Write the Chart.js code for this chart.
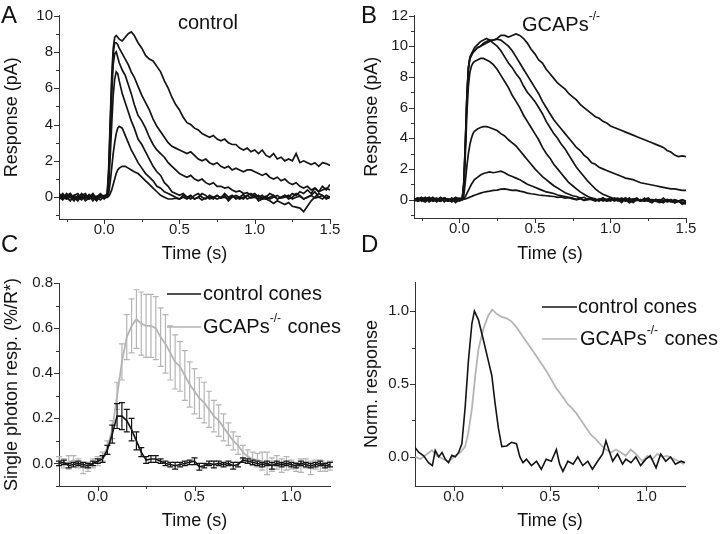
<!DOCTYPE html>
<html>
<head>
<meta charset="utf-8">
<script src="https://cdn.jsdelivr.net/npm/chart.js@4.4.1/dist/chart.umd.min.js"></script>
<style>
  body { margin: 0; background: #fff; }
  #wrap { position: relative; width: 720px; height: 534px; }
  .panel { position: absolute; width: 360px; height: 267px; }
</style>
</head>
<body>
<div id="wrap">
  <div class="panel" style="left:0;top:0"><canvas id="chartA" width="360" height="267"></canvas></div>
  <div class="panel" style="left:360px;top:0"><canvas id="chartB" width="360" height="267"></canvas></div>
  <div class="panel" style="left:0;top:267px"><canvas id="chartC" width="360" height="267"></canvas></div>
  <div class="panel" style="left:360px;top:267px"><canvas id="chartD" width="360" height="267"></canvas></div>
</div>
<script>
// time base (s) for the flash responses in A and B
const timeAB = [-0.3,-0.275,-0.25,-0.225,-0.2,-0.175,-0.15,-0.125,-0.1,-0.075,-0.05,-0.025,0,
  0.02,0.03,0.04,0.05,0.06,0.07,0.08,0.09,0.1,0.12,0.14,0.16,0.18,
  0.2,0.225,0.25,0.275,0.3,0.325,0.35,0.375,0.4,0.425,0.45,0.475,0.5,0.525,0.55,0.575,0.6,0.625,0.65,0.675,
  0.7,0.725,0.75,0.775,0.8,0.825,0.85,0.875,0.9,0.925,0.95,0.975,1.0,1.025,1.05,1.075,1.1,1.125,1.15,1.175,
  1.2,1.225,1.25,1.275,1.3,1.325,1.35,1.375,1.4,1.425,1.45,1.475,1.5];

// A: control cone responses (pA), dimmest to brightest flash
const ctrlA1 = [0.0,0.2,-0.1,0.0,0.1,-0.1,0.2,0.0,-0.1,0.1,0.0,0.1,-0.05,
  0.0,0.05,0.2,0.4,0.7,1.0,1.3,1.5,1.6,1.7,1.7,1.6,1.5,
  1.4,1.3,1.1,0.9,0.7,0.5,0.3,0.1,0.0,-0.1,-0.1,-0.05,-0.1,0.0,-0.1,0.05,-0.1,0.0,-0.15,-0.05,
  0.0,-0.1,0.1,-0.05,0.0,-0.1,0.05,0.0,-0.1,0.0,0.1,-0.05,0.0,-0.1,0.0,0.05,-0.1,0.0,0.1,-0.05,
  0.0,0.1,-0.1,0.0,0.05,-0.1,0.0,0.1,-0.05,0.0,0.1,-0.05,0.0];
const ctrlA2 = [-0.1,0.1,0.0,0.2,-0.1,0.0,-0.15,0.1,0.0,0.2,-0.1,0.0,0.1,
  0.0,0.2,0.8,1.6,2.4,3.0,3.5,3.8,3.9,3.8,3.4,3.0,2.6,
  2.3,1.9,1.6,1.3,1.1,0.9,0.6,0.5,0.3,0.2,0.1,0.0,-0.1,0.1,0.0,-0.1,0.1,0.2,0.0,-0.1,
  0.1,0.0,-0.1,0.0,0.1,-0.2,0.0,0.1,0.0,-0.1,0.1,0.2,0.0,0.1,-0.1,0.0,0.2,0.1,-0.1,0.0,
  0.1,-0.1,0.0,0.2,0.1,-0.1,0.0,0.1,0.3,0.0,-0.1,0.1,0.0];
const ctrlA3 = [0.2,0.0,-0.1,0.1,0.0,-0.2,0.1,0.2,-0.1,0.0,-0.2,0.1,0.0,
  0.0,0.6,2.2,4.0,5.6,6.5,6.9,6.8,6.4,5.7,5.2,4.7,4.2,
  3.8,3.2,2.9,2.5,2.1,1.7,1.4,1.2,0.8,0.6,0.3,0.2,0.1,0.2,0.0,0.1,-0.1,0.0,0.2,0.1,
  -0.1,0.0,0.1,-0.05,0.2,0.0,0.1,-0.1,0.0,0.15,-0.1,0.0,0.1,-0.2,-0.1,-0.1,-0.2,-0.35,-0.2,-0.3,
  -0.4,-0.3,-0.5,-0.55,-0.6,-0.8,-0.5,-0.2,0.0,0.2,0.1,-0.1,0.0];
const ctrlA4 = [0.0,-0.15,0.1,0.2,-0.1,0.0,0.15,-0.2,-0.05,0.1,0.0,0.2,0.0,
  0.05,1.1,3.3,5.6,7.3,7.9,8.0,7.7,7.4,7.0,6.7,6.2,5.7,
  5.1,4.5,4.2,3.8,3.3,2.9,2.6,2.4,2.2,1.9,1.7,1.5,1.3,1.2,1.1,1.2,1.0,0.9,1.0,0.8,
  0.7,0.8,0.6,0.6,0.5,0.55,0.4,0.3,0.35,0.2,0.25,0.1,0.2,0.0,0.1,-0.1,0.0,0.1,-0.1,0.0,
  0.1,0.0,0.2,0.1,0.3,0.2,0.4,0.2,0.5,0.3,0.6,0.4,0.7];
const ctrlA5 = [-0.1,0.15,0.0,-0.2,0.1,0.2,-0.1,0.0,0.1,-0.2,0.05,0.1,-0.1,
  0.1,1.3,3.8,6.2,7.9,8.5,8.5,8.4,8.2,7.9,7.6,7.3,6.9,
  6.6,6.1,5.6,5.2,4.8,4.3,3.9,3.6,3.3,3.0,2.8,2.7,2.6,2.5,2.4,2.5,2.3,2.1,2.0,2.1,
  1.9,1.8,1.9,1.7,1.6,1.7,1.5,1.6,1.5,1.4,1.5,1.5,1.4,1.3,1.2,1.3,1.1,1.0,1.1,0.9,
  1.0,0.8,0.7,0.8,0.6,0.5,0.6,0.4,0.5,0.3,0.4,0.5,0.4];
const ctrlA6 = [0.1,-0.1,0.2,0.0,-0.2,0.1,0.0,-0.1,0.15,-0.05,0.0,-0.15,0.05,
  0.2,1.6,4.2,6.6,8.2,8.8,8.9,8.8,8.7,8.6,8.8,9.0,9.1,
  8.9,8.5,8.2,7.8,7.6,7.5,7.2,6.9,6.4,6.0,5.5,5.1,4.8,4.4,4.1,4.0,3.8,3.7,3.5,3.4,
  3.3,3.4,3.2,3.1,3.2,3.0,2.9,2.9,2.7,2.6,2.7,2.5,2.6,2.4,2.6,2.3,2.2,2.4,2.1,2.2,
  2.0,2.1,2.0,2.4,1.9,2.0,1.9,1.8,1.9,1.7,1.9,1.85,1.75];

// B: GCAPs-/- cone responses (pA), dimmest to brightest flash
const gcapB1 = [0.1,-0.1,0.0,0.1,-0.15,0.0,0.1,-0.1,0.05,0.0,-0.1,0.1,0.0,
  0.0,0.02,0.05,0.08,0.12,0.16,0.2,0.24,0.28,0.35,0.42,0.48,0.52,
  0.55,0.6,0.62,0.68,0.7,0.65,0.6,0.62,0.55,0.5,0.42,0.38,0.35,0.3,0.28,0.25,0.22,0.2,0.15,0.17,
  0.1,0.12,0.05,0.0,0.05,-0.05,0.0,0.05,-0.05,0.0,0.05,-0.1,0.0,0.05,-0.05,0.0,-0.1,0.0,0.05,-0.05,
  0.0,-0.1,-0.05,0.0,-0.1,0.0,-0.05,-0.15,-0.1,0.0,-0.1,-0.05,-0.1];
const gcapB2 = [-0.1,0.0,0.15,-0.05,0.1,-0.1,0.0,0.1,-0.15,0.05,0.0,-0.1,0.05,
  0.0,0.05,0.2,0.4,0.6,0.8,1.0,1.15,1.3,1.45,1.6,1.7,1.75,
  1.8,1.75,1.8,1.85,1.75,1.6,1.5,1.4,1.3,1.15,1.0,0.9,0.8,0.7,0.6,0.5,0.45,0.4,0.3,0.25,
  0.2,0.15,0.1,0.0,0.1,-0.05,0.05,0.0,-0.1,0.0,0.1,-0.1,0.0,0.05,-0.1,0.0,0.1,-0.1,0.0,-0.05,
  0.0,-0.1,0.05,-0.1,0.0,-0.05,-0.1,0.0,-0.15,-0.05,-0.1,0.0,-0.1];
const gcapB3 = [0.0,0.1,-0.1,0.05,0.15,-0.1,0.0,-0.05,0.1,-0.1,0.05,0.0,-0.1,
  0.0,0.3,1.2,2.2,3.0,3.6,4.0,4.3,4.45,4.6,4.7,4.75,4.75,
  4.7,4.6,4.5,4.3,4.15,3.9,3.7,3.5,3.2,2.9,2.6,2.3,2.0,1.75,1.5,1.3,1.1,0.9,0.75,0.6,
  0.45,0.35,0.25,0.2,0.1,0.15,0.0,0.1,-0.05,0.05,-0.1,0.0,0.1,-0.1,0.0,0.1,-0.1,0.1,-0.2,0.0,
  -0.1,0.0,-0.1,0.0,-0.1,-0.2,-0.1,0.0,-0.1,-0.2,-0.1,-0.2,-0.15];
const gcapB4 = [-0.1,0.05,0.1,-0.1,0.0,0.15,-0.05,-0.1,0.1,0.0,-0.15,0.05,0.1,
  0.05,0.8,3.0,5.6,7.4,8.3,8.7,8.9,9.0,9.1,9.2,9.2,9.1,
  9.0,8.8,8.5,8.1,7.7,7.3,6.8,6.4,6.0,5.5,5.1,4.7,4.3,3.9,3.4,3.0,2.7,2.3,2.0,1.7,
  1.4,1.1,0.9,0.7,0.5,0.35,0.2,0.1,0.05,-0.1,0.1,0.0,-0.1,0.1,0.0,-0.2,0.1,-0.1,0.0,0.1,
  -0.1,0.0,0.1,-0.1,0.0,-0.1,0.1,-0.1,0.0,-0.2,-0.1,-0.2,-0.3];
const gcapB5 = [0.05,-0.1,0.1,0.0,-0.05,0.1,-0.1,0.15,0.0,-0.1,0.05,0.1,-0.05,
  0.1,1.1,3.7,6.7,8.6,9.3,9.5,9.7,9.9,10.1,10.3,10.4,10.5,
  10.4,10.2,10.0,9.7,9.3,8.9,8.6,8.2,7.9,7.4,7.0,6.7,6.4,6.0,5.6,5.1,4.7,4.3,4.0,3.6,
  3.3,2.9,2.5,2.1,1.8,1.5,1.2,0.95,0.7,0.5,0.35,0.25,0.15,0.05,0.1,-0.1,0.0,-0.2,-0.1,0.0,
  -0.1,0.1,-0.1,-0.2,0.0,-0.1,-0.2,0.0,-0.1,-0.2,-0.1,-0.3,-0.2];
const gcapB6 = [0.0,0.1,-0.05,-0.15,0.1,0.0,0.05,-0.1,0.1,0.0,-0.1,0.15,0.0,
  0.1,1.0,3.6,6.6,8.5,9.2,9.4,9.6,9.7,9.9,10.0,10.2,10.3,
  10.4,10.4,10.45,10.4,10.2,10.0,9.7,9.3,8.9,8.5,8.1,7.7,7.3,6.9,6.4,6.0,5.6,5.2,4.9,4.6,
  4.3,4.0,3.7,3.4,3.2,2.9,2.7,2.4,2.3,2.1,2.0,1.9,1.8,1.7,1.6,1.5,1.4,1.35,1.3,1.2,
  1.1,1.05,1.0,0.95,0.9,0.85,0.8,0.75,0.7,0.7,0.65,0.6,0.6];
const gcapB7 = [0.1,-0.1,0.0,0.15,-0.1,0.05,-0.15,0.1,0.0,-0.1,0.1,-0.2,0.0,
  0.1,1.2,3.8,6.8,8.6,9.2,9.4,9.6,9.7,9.9,10.0,10.1,10.2,
  10.3,10.4,10.5,10.7,10.7,10.6,10.7,10.8,10.7,10.5,10.2,9.8,9.5,9.1,8.9,8.5,8.2,7.9,7.6,7.4,
  7.2,6.9,6.7,6.5,6.2,6.0,5.8,5.6,5.4,5.3,5.1,5.0,4.8,4.7,4.6,4.5,4.4,4.3,4.2,4.1,
  4.0,3.9,3.8,3.7,3.6,3.5,3.4,3.2,3.1,2.9,2.8,2.85,2.8];

// C: mean single photon responses (%/R*) with SEM
const timeC = [-0.2,-0.175,-0.15,-0.125,-0.1,-0.075,-0.05,-0.025,0,0.025,0.05,0.075,0.1,0.125,0.15,0.175,
  0.2,0.225,0.25,0.275,0.3,0.325,0.35,0.375,0.4,0.425,0.45,0.475,0.5,0.525,0.55,0.575,0.6,0.625,0.65,0.675,
  0.7,0.725,0.75,0.775,0.8,0.825,0.85,0.875,0.9,0.925,0.95,0.975,1.0,1.025,1.05,1.075,1.1,1.125,1.15,1.175,1.2];
const spControl = [0.0,0.005,-0.01,-0.005,0.0,-0.005,-0.01,0.0,0.01,0.02,0.06,0.13,0.21,0.21,0.19,0.15,
  0.1,0.05,0.015,0.02,0.02,0.01,0.0,-0.005,-0.01,-0.005,0.0,0.005,0.01,-0.015,-0.01,0.0,-0.005,0.0,-0.005,0.0,
  -0.01,-0.005,0.015,0.01,0.005,0.0,-0.005,0.0,-0.01,0.0,-0.005,0.0,-0.005,-0.01,0.0,-0.005,-0.01,-0.005,0.0,-0.01,-0.005];
const spControlErr = [0.01,0.01,0.01,0.01,0.01,0.01,0.01,0.01,0.01,0.015,0.02,0.04,0.055,0.06,0.05,0.05,
  0.04,0.02,0.015,0.015,0.015,0.01,0.01,0.01,0.015,0.01,0.01,0.01,0.015,0.015,0.01,0.01,0.015,0.01,0.01,0.01,
  0.015,0.01,0.01,0.01,0.01,0.01,0.01,0.01,0.015,0.01,0.01,0.01,0.01,0.01,0.01,0.01,0.01,0.01,0.01,0.01,0.01];
const spGcaps = [0.01,0.0,0.005,0.015,0.0,-0.02,-0.015,0.0,0.01,0.03,0.07,0.15,0.3,0.45,0.56,0.61,
  0.64,0.62,0.61,0.61,0.6,0.56,0.53,0.49,0.45,0.43,0.39,0.35,0.32,0.29,0.27,0.24,0.21,0.19,0.16,0.13,
  0.1,0.08,0.05,0.03,0.02,0.015,0.01,0.0,-0.005,0.005,-0.01,0.0,-0.005,-0.015,-0.01,0.0,-0.02,-0.005,-0.01,-0.015,-0.01];
const spGcapsErr = [0.02,0.02,0.03,0.02,0.02,0.025,0.02,0.02,0.02,0.02,0.03,0.04,0.06,0.08,0.1,0.12,
  0.13,0.14,0.14,0.14,0.14,0.13,0.13,0.12,0.12,0.11,0.11,0.1,0.1,0.09,0.09,0.08,0.07,0.07,0.06,0.05,
  0.04,0.04,0.03,0.03,0.03,0.03,0.04,0.05,0.03,0.03,0.03,0.03,0.02,0.02,0.03,0.02,0.03,0.02,0.025,0.02,0.02];

// D: normalized single photon responses
const normCtrlT = [-0.2,-0.18,-0.155,-0.13,-0.11,-0.095,-0.077,-0.06,-0.043,-0.026,-0.009,0.009,0.026,0.043,0.06,0.077,
  0.095,0.108,0.129,0.155,0.18,0.198,0.215,0.232,0.25,0.275,0.3,0.326,0.344,0.36,0.378,0.404,0.43,0.455,0.48,0.507,
  0.533,0.55,0.567,0.593,0.62,0.644,0.67,0.696,0.72,0.747,0.773,0.79,0.807,0.825,0.85,0.876,0.893,0.92,0.945,0.97,
  0.997,1.02,1.05,1.074,1.1,1.125,1.15,1.18,1.2];
const normCtrl = [0.065,0.03,0.007,-0.04,-0.06,0.045,0.0,0.03,-0.016,-0.04,0.01,0.0,0.03,0.09,0.34,0.66,
  0.915,1.0,0.94,0.8,0.66,0.56,0.37,0.2,0.07,0.075,0.1,0.09,0.0,-0.04,-0.016,-0.06,-0.03,-0.085,-0.016,-0.03,
  0.05,-0.05,-0.1,-0.03,-0.05,0.0,-0.06,-0.03,-0.085,-0.03,0.02,0.11,0.04,-0.03,0.02,-0.05,-0.016,-0.04,0.0,-0.06,
  -0.016,0.007,-0.075,0.02,-0.03,0.0,-0.05,-0.03,-0.04];
const normGcapsT = [-0.198,-0.172,-0.137,-0.112,-0.086,-0.052,-0.026,0.009,0.034,0.06,0.077,0.095,0.112,0.129,0.155,0.18,
  0.2,0.225,0.25,0.275,0.3,0.326,0.352,0.378,0.404,0.43,0.455,0.481,0.507,0.533,0.55,0.567,0.593,0.61,0.636,0.662,
  0.687,0.713,0.739,0.765,0.79,0.816,0.842,0.868,0.893,0.919,0.945,0.979,1.005,1.031,1.057,1.082,1.108,1.143,1.168,1.194];
const normGcaps = [0.0,-0.015,0.02,0.045,0.007,-0.016,-0.03,0.007,0.03,0.07,0.17,0.33,0.55,0.74,0.88,0.97,
  1.01,0.98,0.96,0.95,0.93,0.89,0.84,0.79,0.74,0.69,0.64,0.59,0.53,0.47,0.44,0.41,0.36,0.34,0.3,0.25,
  0.2,0.15,0.12,0.08,0.05,0.03,0.05,0.03,0.007,0.05,0.02,-0.03,0.007,-0.016,0.02,0.0,0.007,-0.016,-0.03,-0.05];

const FONT = "'Liberation Sans', Arial, Helvetica, sans-serif";
const AXIS = '#333';
const INK = '#141414';
const GREY = '#b5b5b5';
Chart.defaults.font.family = FONT;
Chart.defaults.color = '#1a1a1a';

const pts = (xs, ys) => xs.map((x, i) => ({ x: x, y: ys[i] }));

// vertical SEM bars, drawn right after their own dataset
const errorBars = {
  id: 'errorBars',
  afterDatasetDraw(chart, args) {
    const ds = chart.data.datasets[args.index];
    if (!ds.errorBars) return;
    const ys = chart.scales.y, ctx = chart.ctx;
    ctx.save();
    ctx.strokeStyle = ds.borderColor;
    ctx.lineWidth = 1.2;
    args.meta.data.forEach((pt, i) => {
      const v = ds.data[i].y, e = ds.errorBars[i];
      const top = ys.getPixelForValue(v + e), bot = ys.getPixelForValue(v - e);
      ctx.beginPath();
      ctx.moveTo(pt.x, top); ctx.lineTo(pt.x, bot);
      ctx.moveTo(pt.x - 3, top); ctx.lineTo(pt.x + 3, top);
      ctx.moveTo(pt.x - 3, bot); ctx.lineTo(pt.x + 3, bot);
      ctx.stroke();
    });
    ctx.restore();
  }
};
Chart.register(errorBars);

// outward major/minor tick marks, Origin style
function tickLayer(spec) {
  return {
    id: 'tickLayer',
    afterDraw(chart) {
      const { ctx, chartArea } = chart;
      ctx.save();
      ctx.strokeStyle = AXIS;
      ctx.lineWidth = 1;
      ['x', 'y'].forEach(k => {
        const sc = chart.scales[k];
        [[spec[k][1], 3], [spec[k][0], 5]].forEach(([step, len]) => {
          for (let v = Math.ceil(sc.min / step - 1e-6) * step; v <= sc.max + 1e-6; v += step) {
            const p = Math.round(sc.getPixelForValue(v)) + 0.5;
            ctx.beginPath();
            if (k === 'x') { ctx.moveTo(p, chartArea.bottom); ctx.lineTo(p, chartArea.bottom + len); }
            else { ctx.moveTo(chartArea.left, p); ctx.lineTo(chartArea.left - len, p); }
            ctx.stroke();
          }
        });
      });
      ctx.restore();
    }
  };
}

// panel letters, in-plot labels and legend keys
function noteLayer(texts, lines) {
  return {
    id: 'noteLayer',
    afterDraw(chart) {
      const ctx = chart.ctx;
      ctx.save();
      lines.forEach(l => {
        ctx.strokeStyle = l.color;
        ctx.lineWidth = 1.7;
        ctx.beginPath();
        ctx.moveTo(l.x1, l.y); ctx.lineTo(l.x2, l.y);
        ctx.stroke();
      });
      ctx.textBaseline = 'middle';
      ctx.textAlign = 'left';
      ctx.fillStyle = '#111';
      texts.forEach(item => {
        let x = item.x;
        item.parts.forEach(p => {
          const size = p.sup ? Math.round(item.size * 0.6) : item.size;
          ctx.font = size + 'px ' + FONT;
          const y = p.sup ? item.y - item.size * 0.4 : item.y;
          ctx.fillText(p.t, x, y);
          x += ctx.measureText(p.t).width + (p.sup ? 1 : 0);
        });
      });
      ctx.restore();
    }
  };
}

function panel(id, datasets, c) {
  return new Chart(document.getElementById(id), {
    type: 'line',
    data: { datasets: datasets },
    options: {
      responsive: false,
      animation: false,
      layout: { padding: c.padding },
      elements: { point: { radius: 0 }, line: { tension: 0 } },
      plugins: { legend: { display: false }, tooltip: { enabled: false } },
      scales: {
        x: {
          type: 'linear', min: c.x[0], max: c.x[1],
          afterFit: s => { s.height = c.xh; },
          grid: { display: false, drawTicks: false },
          border: { display: true, color: AXIS, width: 1 },
          ticks: { stepSize: c.x[2], includeBounds: false, autoSkip: false, maxRotation: 0, padding: 2,
                   font: { size: 15 }, callback: v => v.toFixed(1) },
          title: { display: true, text: 'Time (s)', font: { size: 18 }, color: '#111', padding: { top: 0, bottom: 2 } }
        },
        y: {
          min: c.y[0], max: c.y[1],
          afterFit: s => { s.width = c.yw; },
          grid: { display: false, drawTicks: false },
          border: { display: true, color: AXIS, width: 1 },
          ticks: { stepSize: c.y[2], includeBounds: false, autoSkip: false, padding: 6,
                   font: { size: 15 }, callback: c.yfmt },
          title: { display: true, text: c.ytitle, font: { size: 18 }, color: '#111', padding: { top: 1, bottom: 0 } }
        }
      }
    },
    plugins: [tickLayer(c.ticks), noteLayer(c.texts, c.lines || [])]
  });
}

const traceSet = arrs => arrs.map(tr => ({
  data: pts(timeAB, tr), borderColor: INK, borderWidth: 1.7
}));

panel('chartA', traceSet([ctrlA1, ctrlA2, ctrlA3, ctrlA4, ctrlA5, ctrlA6]), {
  padding: { top: 15.5, right: 30, left: 0, bottom: 0 }, xh: 48, yw: 59,
  x: [-0.3, 1.5, 0.5], y: [-1.2, 10, 2], yfmt: v => v.toFixed(0), ytitle: 'Response (pA)',
  ticks: { x: [0.5, 0.25], y: [2, 1] },
  texts: [
    { x: 1, y: 16, size: 24, parts: [{ t: 'A' }] },
    { x: 1, y: 245, size: 24, parts: [{ t: 'C' }] },
    { x: 178, y: 23, size: 20, parts: [{ t: 'control' }] }
  ]
});

panel('chartB', traceSet([gcapB1, gcapB2, gcapB3, gcapB4, gcapB5, gcapB6, gcapB7]), {
  padding: { top: 15.5, right: 34, left: 0, bottom: 0 }, xh: 49, yw: 54,
  x: [-0.3, 1.5, 0.5], y: [-1.2, 12, 2], yfmt: v => v.toFixed(0), ytitle: 'Response (pA)',
  ticks: { x: [0.5, 0.25], y: [2, 1] },
  texts: [
    { x: 1, y: 16, size: 24, parts: [{ t: 'B' }] },
    { x: 1, y: 245, size: 24, parts: [{ t: 'D' }] },
    { x: 162, y: 25, size: 20, parts: [{ t: 'GCAPs' }, { t: '-/-', sup: true }] }
  ]
});

panel('chartC', [
  { data: pts(timeC, spControl), errorBars: spControlErr, borderColor: INK, borderWidth: 1.6 },
  { data: pts(timeC, spGcaps), errorBars: spGcapsErr, borderColor: GREY, borderWidth: 1.8 }
], {
  padding: { top: 16, right: 30, left: 0, bottom: 0 }, xh: 48, yw: 59,
  x: [-0.2, 1.2, 0.5], y: [-0.1, 0.8, 0.2], yfmt: v => v.toFixed(1), ytitle: 'Single photon resp. (%/R*)',
  ticks: { x: [0.5, 0.25], y: [0.2, 0.1] },
  lines: [{ x1: 167, x2: 201, y: 27, color: INK }, { x1: 167, x2: 201, y: 60, color: GREY }],
  texts: [
    { x: 203, y: 27, size: 20, parts: [{ t: 'control cones' }] },
    { x: 203, y: 60, size: 20, parts: [{ t: 'GCAPs' }, { t: '-/-', sup: true }, { t: ' cones' }] }
  ]
});

panel('chartD', [
  { data: pts(normCtrlT, normCtrl), borderColor: INK, borderWidth: 1.6 },
  { data: pts(normGcapsT, normGcaps), borderColor: GREY, borderWidth: 1.8 }
], {
  padding: { top: 15, right: 35, left: 0, bottom: 0 }, xh: 48, yw: 55,
  x: [-0.2, 1.2, 0.5], y: [-0.2, 1.2, 0.5], yfmt: v => v.toFixed(1), ytitle: 'Norm. response',
  ticks: { x: [0.5, 0.25], y: [0.5, 0.25] },
  lines: [{ x1: 182, x2: 217, y: 40, color: INK }, { x1: 182, x2: 217, y: 72, color: GREY }],
  texts: [
    { x: 218, y: 40, size: 20, parts: [{ t: 'control cones' }] },
    { x: 220, y: 72, size: 20, parts: [{ t: 'GCAPs' }, { t: '-/-', sup: true }, { t: ' cones' }] }
  ]
});
</script>
</body>
</html>
